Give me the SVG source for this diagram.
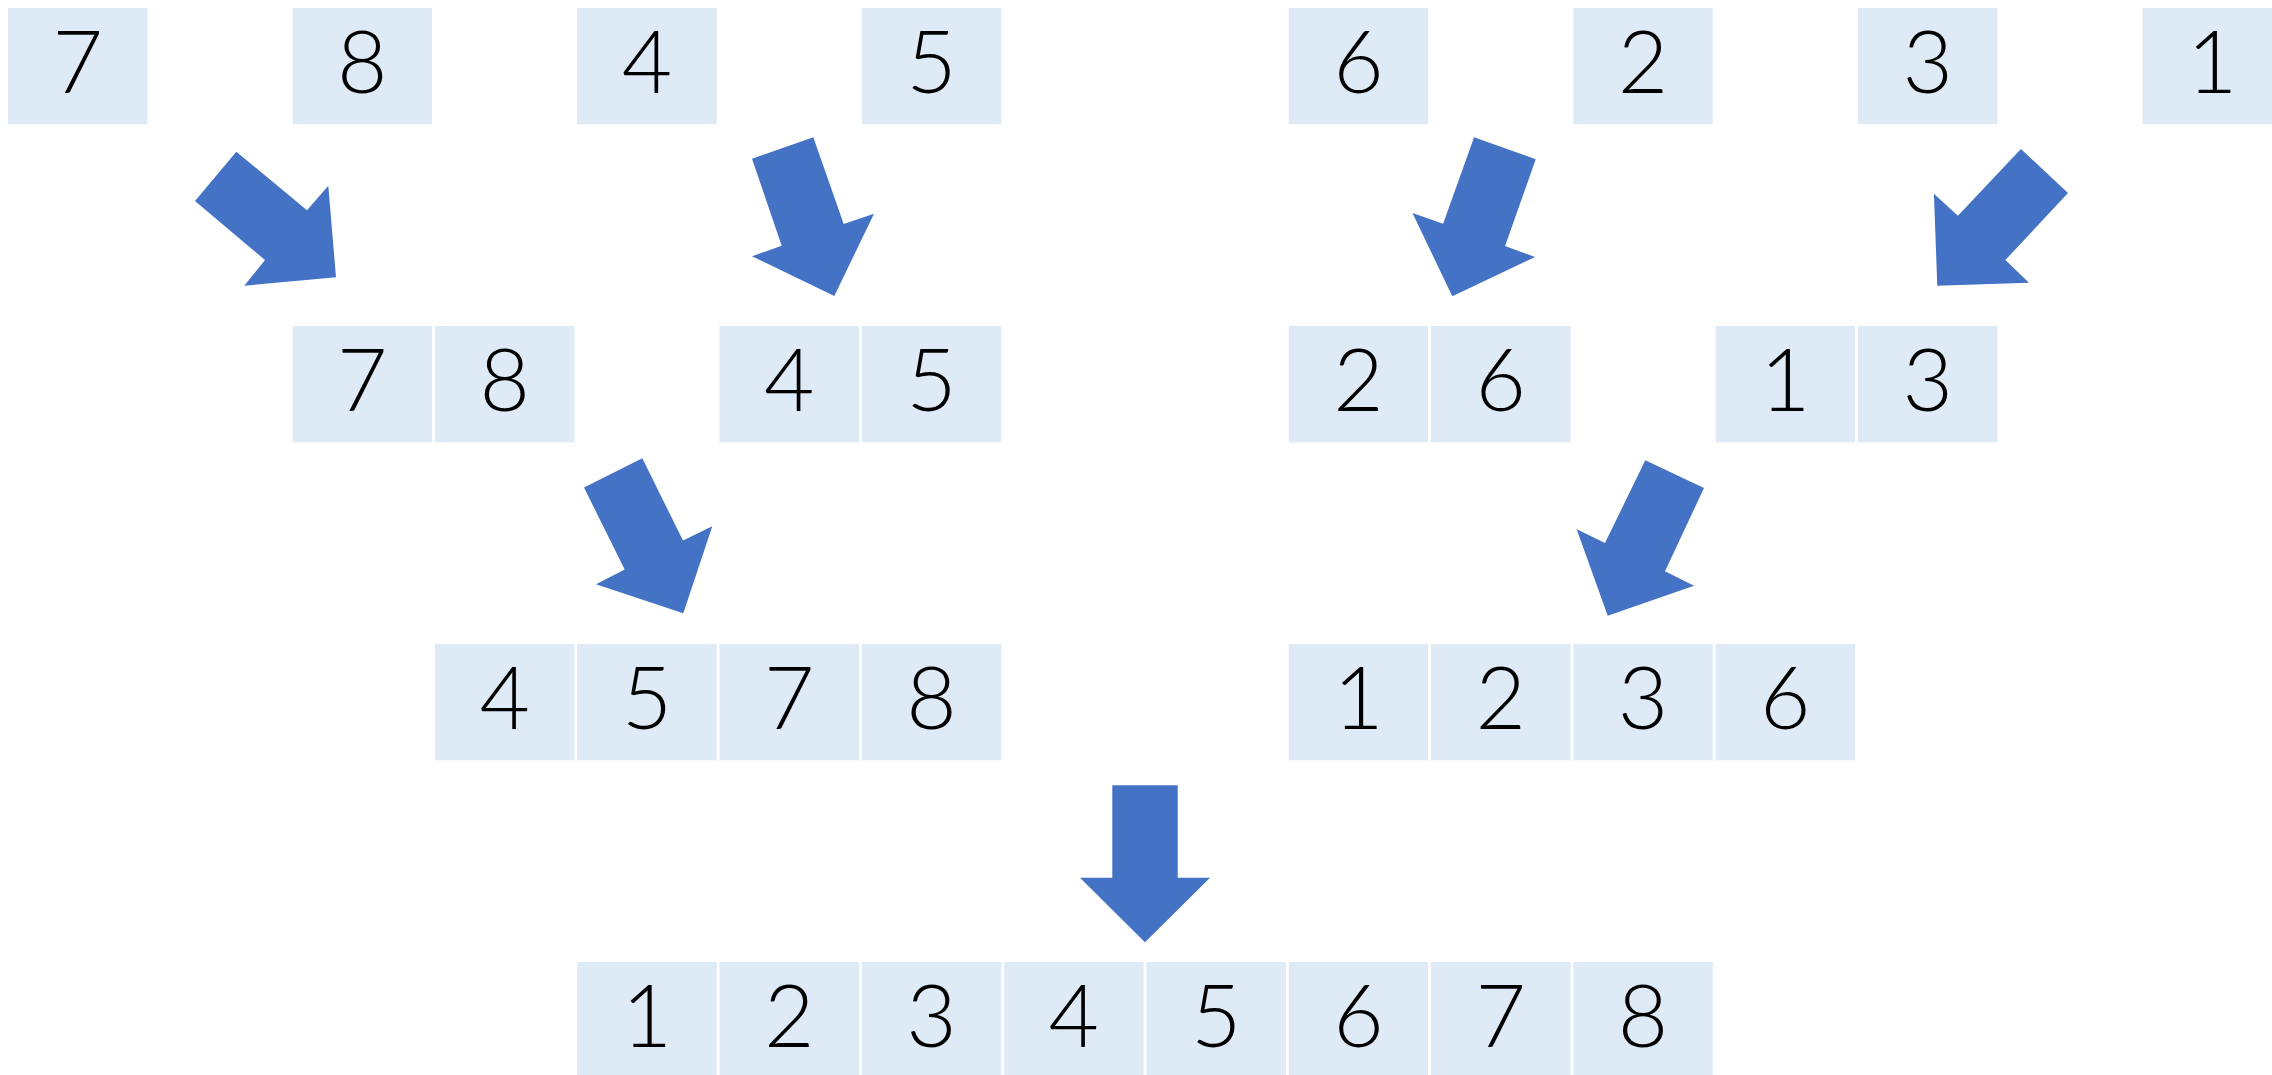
<svg xmlns="http://www.w3.org/2000/svg" width="2272" height="1075" viewBox="0 0 2272 1075">
<style>
.box{fill:#DEEAF6}
.num{font-family:Lato,"Noto Sans",sans-serif;font-size:87px;font-weight:300;fill:#000;text-anchor:middle}
.arr{fill:#4472C4}
</style>
<rect width="2272" height="1075" fill="#fff"/>
<g id="row1">
<g id="r1-7"><rect class="box" x="8" y="8" width="139.5" height="116.3"/><text class="num" x="77.75" y="93.3">7</text></g>
<g id="r1-8"><rect class="box" x="292.6" y="8" width="139.5" height="116.3"/><text class="num" x="362.35" y="93.3">8</text></g>
<g id="r1-4"><rect class="box" x="577.2" y="8" width="139.5" height="116.3"/><text class="num" x="646.95" y="93.3">4</text></g>
<g id="r1-5"><rect class="box" x="861.8" y="8" width="139.5" height="116.3"/><text class="num" x="931.55" y="93.3">5</text></g>
<g id="r1-6"><rect class="box" x="1288.7" y="8" width="139.5" height="116.3"/><text class="num" x="1358.45" y="93.3">6</text></g>
<g id="r1-2"><rect class="box" x="1573.3" y="8" width="139.5" height="116.3"/><text class="num" x="1643.05" y="93.3">2</text></g>
<g id="r1-3"><rect class="box" x="1857.9" y="8" width="139.5" height="116.3"/><text class="num" x="1927.65" y="93.3">3</text></g>
<g id="r1-1"><rect class="box" x="2142.5" y="8" width="139.5" height="116.3"/><text class="num" x="2212.25" y="93.3">1</text></g>
</g>
<g id="row2">
<g id="r2-78"><rect class="box" x="292.6" y="326" width="139.5" height="116.3"/><text class="num" x="362.35" y="411.3">7</text><rect class="box" x="434.9" y="326" width="139.5" height="116.3"/><text class="num" x="504.65" y="411.3">8</text></g>
<g id="r2-45"><rect class="box" x="719.5" y="326" width="139.5" height="116.3"/><text class="num" x="789.25" y="411.3">4</text><rect class="box" x="861.8" y="326" width="139.5" height="116.3"/><text class="num" x="931.55" y="411.3">5</text></g>
<g id="r2-26"><rect class="box" x="1288.7" y="326" width="139.5" height="116.3"/><text class="num" x="1358.45" y="411.3">2</text><rect class="box" x="1431" y="326" width="139.5" height="116.3"/><text class="num" x="1500.75" y="411.3">6</text></g>
<g id="r2-13"><rect class="box" x="1715.6" y="326" width="139.5" height="116.3"/><text class="num" x="1785.35" y="411.3">1</text><rect class="box" x="1857.9" y="326" width="139.5" height="116.3"/><text class="num" x="1927.65" y="411.3">3</text></g>
</g>
<g id="row3">
<g id="r3-4578"><rect class="box" x="434.9" y="644" width="139.5" height="116.3"/><text class="num" x="504.65" y="729.3">4</text><rect class="box" x="577.2" y="644" width="139.5" height="116.3"/><text class="num" x="646.95" y="729.3">5</text><rect class="box" x="719.5" y="644" width="139.5" height="116.3"/><text class="num" x="789.25" y="729.3">7</text><rect class="box" x="861.8" y="644" width="139.5" height="116.3"/><text class="num" x="931.55" y="729.3">8</text></g>
<g id="r3-1236"><rect class="box" x="1288.7" y="644" width="139.5" height="116.3"/><text class="num" x="1358.45" y="729.3">1</text><rect class="box" x="1431" y="644" width="139.5" height="116.3"/><text class="num" x="1500.75" y="729.3">2</text><rect class="box" x="1573.3" y="644" width="139.5" height="116.3"/><text class="num" x="1643.05" y="729.3">3</text><rect class="box" x="1715.6" y="644" width="139.5" height="116.3"/><text class="num" x="1785.35" y="729.3">6</text></g>
</g>
<g id="row4">
<g id="r4-all"><rect class="box" x="577.2" y="962" width="139.5" height="116.3"/><text class="num" x="646.95" y="1047.3">1</text><rect class="box" x="719.5" y="962" width="139.5" height="116.3"/><text class="num" x="789.25" y="1047.3">2</text><rect class="box" x="861.8" y="962" width="139.5" height="116.3"/><text class="num" x="931.55" y="1047.3">3</text><rect class="box" x="1004.1" y="962" width="139.5" height="116.3"/><text class="num" x="1073.85" y="1047.3">4</text><rect class="box" x="1146.4" y="962" width="139.5" height="116.3"/><text class="num" x="1216.15" y="1047.3">5</text><rect class="box" x="1288.7" y="962" width="139.5" height="116.3"/><text class="num" x="1358.45" y="1047.3">6</text><rect class="box" x="1431" y="962" width="139.5" height="116.3"/><text class="num" x="1500.75" y="1047.3">7</text><rect class="box" x="1573.3" y="962" width="139.5" height="116.3"/><text class="num" x="1643.05" y="1047.3">8</text></g>
</g>
<g id="connectors">
<polygon class="arr" points="236.3,151.7 195,201 265,260 244.3,285.7 336,277.3 328.3,185.7 307,210.3"/>
<polygon class="arr" points="813.3,137.3 752,158.7 781.7,245.7 752,256.3 834.3,296 874,213.7 843.7,224"/>
<polygon class="arr" points="1474.1,137.3 1535.7,159.3 1505.1,246 1535,257 1452.3,296.3 1412.5,213 1443.1,223.7"/>
<polygon class="arr" points="2020.9,149 2068,193 2005.4,260 2029,282.7 1937.3,285.7 1933.9,193.7 1957.9,215.7"/>
<polygon class="arr" points="642.3,458.3 584,487.5 624.7,569.5 596,584.3 683.3,613.3 712.3,526.3 683,540.5"/>
<polygon class="arr" points="1645.3,460.3 1704,488 1665,571.3 1694,585.7 1607.7,615.7 1576.7,529.3 1605,543"/>
<polygon class="arr" points="1112.3,785.3 1177.7,785.3 1177.7,877.7 1210,877.7 1145,942.3 1080,877.7 1112.3,877.7"/>
</g>
</svg>
